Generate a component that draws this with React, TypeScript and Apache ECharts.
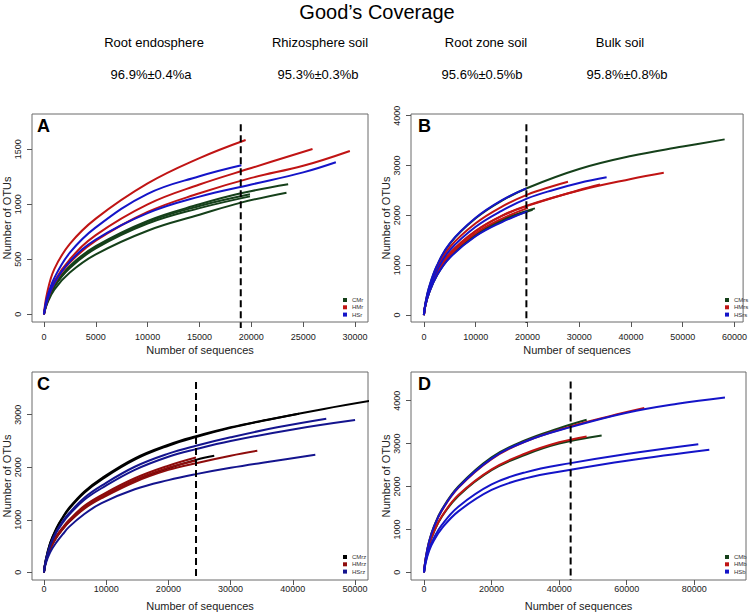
import React, { useEffect, useRef } from "react";
import * as echarts from "echarts";

type Pt = [number, number];

// ---------- Panel A (root endosphere) ----------
const A_CM: Pt[][] = [
  [[0, 0], [300, 110], [1000, 260], [2500, 440], [5000, 620], [10000, 850], [15000, 1000], [19000, 1100], [23550, 1182]],
  [[0, 0], [300, 110], [1000, 255], [2500, 430], [5000, 610], [10000, 840], [15000, 985], [19870, 1091]],
  [[0, 0], [300, 105], [1000, 250], [2500, 420], [5000, 600], [10000, 825], [15000, 965], [19870, 1072]],
  [[0, 0], [300, 95], [1000, 225], [2500, 380], [5000, 545], [10000, 760], [15000, 905], [19000, 1015], [23390, 1106]],
];
const A_HM: Pt[][] = [
  [[0, 0], [300, 190], [1000, 410], [2500, 640], [5000, 870], [10000, 1190], [15000, 1420], [19450, 1585]],
  [[0, 0], [300, 130], [1000, 300], [2500, 500], [5000, 720], [10000, 1000], [15000, 1180], [20000, 1330], [25900, 1503]],
  [[0, 0], [300, 120], [1000, 280], [2500, 470], [5000, 670], [10000, 930], [15000, 1100], [20000, 1240], [25000, 1350], [29500, 1485]],
];
const A_HS: Pt[][] = [
  [[0, 0], [300, 150], [1000, 330], [2500, 560], [5000, 790], [10000, 1095], [15000, 1255], [19040, 1355]],
  [[0, 0], [300, 120], [1000, 285], [2500, 480], [5000, 680], [10000, 920], [15000, 1070], [20000, 1180], [25000, 1290], [28150, 1382]],
];

// ---------- Panel B (rhizosphere soil) ----------
const B_CM: Pt[][] = [
  [[0, 0], [300, 235], [1000, 550], [2500, 980], [5000, 1430], [10000, 1940], [15000, 2290], [20000, 2550], [30000, 2930], [40000, 3190], [50000, 3380], [58100, 3525]],
  [[0, 0], [300, 200], [1000, 455], [2500, 810], [5000, 1180], [10000, 1620], [15000, 1910], [21450, 2140]],
  [[0, 0], [300, 195], [1000, 445], [2500, 795], [5000, 1160], [10000, 1590], [15000, 1880], [21000, 2110]],
];
const B_HM: Pt[][] = [
  [[0, 0], [300, 225], [1000, 520], [2500, 930], [5000, 1360], [10000, 1840], [15000, 2170], [20000, 2415], [25000, 2590], [27830, 2676]],
  [[0, 0], [300, 210], [1000, 480], [2500, 850], [5000, 1240], [10000, 1690], [15000, 1990], [20000, 2200], [30000, 2500], [40000, 2730], [46340, 2856]],
  [[0, 0], [300, 205], [1000, 470], [2500, 840], [5000, 1230], [10000, 1680], [15000, 1985], [20000, 2190], [30000, 2510], [34020, 2622]],
  [[0, 0], [300, 200], [1000, 460], [2500, 820], [5000, 1200], [10000, 1640], [15000, 1930], [20100, 2150]],
];
const B_HS: Pt[][] = [
  [[0, 0], [300, 240], [1000, 560], [2500, 990], [5000, 1440], [10000, 1950], [15000, 2300], [19800, 2540]],
  [[0, 0], [300, 215], [1000, 500], [2500, 890], [5000, 1300], [10000, 1770], [15000, 2090], [20000, 2340], [25000, 2510], [30000, 2650], [35300, 2763]],
  [[0, 0], [300, 195], [1000, 440], [2500, 790], [5000, 1150], [10000, 1580], [15000, 1860], [20000, 2080]],
];

// ---------- Panel C (root zone soil) ----------
const C_CM: Pt[][] = [
  [[0, 0], [300, 240], [1000, 560], [2000, 840], [3000, 1045], [4000, 1220], [6500, 1540], [9265, 1790], [14600, 2170], [20000, 2430], [24440, 2590], [30000, 2760], [35900, 2905], [45000, 3110], [53000, 3275]],
  [[0, 0], [300, 235], [1000, 550], [2000, 825], [3000, 1030], [4000, 1200], [6500, 1515], [9265, 1765], [14600, 2145], [20000, 2410], [24440, 2575], [30000, 2750], [35000, 2880], [41000, 3020]],
  [[0, 0], [300, 200], [1000, 450], [2000, 670], [3000, 825], [4000, 960], [6500, 1230], [9265, 1430], [14600, 1750], [20000, 1980], [24440, 2140], [27370, 2218]],
];
const C_HM: Pt[][] = [
  [[0, 0], [300, 205], [1000, 460], [2000, 690], [3000, 850], [4000, 990], [6500, 1265], [9265, 1470], [14600, 1790], [20000, 2030], [24440, 2186]],
  [[0, 0], [300, 195], [1000, 440], [2000, 660], [3000, 815], [4000, 950], [6500, 1210], [9265, 1410], [14600, 1720], [20000, 1950], [24440, 2078], [30000, 2220], [34290, 2314]],
  [[0, 0], [300, 200], [1000, 450], [2000, 675], [3000, 833], [4000, 970], [6500, 1240], [9265, 1440], [14600, 1755], [20000, 1990], [24440, 2130]],
];
const C_HS: Pt[][] = [
  [[0, 0], [300, 225], [1000, 520], [2000, 780], [3000, 965], [4000, 1120], [6500, 1420], [9265, 1650], [14600, 2010], [20000, 2260], [24440, 2410], [30000, 2570], [37500, 2760], [45370, 2924]],
  [[0, 0], [300, 220], [1000, 505], [2000, 760], [3000, 940], [4000, 1090], [6500, 1380], [9265, 1600], [14600, 1950], [20000, 2200], [24440, 2345], [30000, 2500], [40000, 2720], [50000, 2898]],
  [[0, 0], [300, 170], [1000, 380], [2000, 570], [3000, 720], [4000, 860], [6500, 1110], [9265, 1316], [14600, 1580], [20000, 1755], [24440, 1869], [30000, 1990], [37000, 2120], [43610, 2237]],
];

// ---------- Panel D (bulk soil) ----------
const D_CM: Pt[][] = [
  [[0, 0], [500, 330], [1500, 720], [3000, 1080], [5230, 1455], [10160, 2000], [20000, 2680], [30000, 3080], [40000, 3360], [48140, 3556]],
  [[0, 0], [500, 290], [1500, 630], [3000, 950], [5230, 1290], [10160, 1780], [20000, 2380], [30000, 2740], [40000, 3000], [52575, 3191]],
];
const D_HM: Pt[][] = [
  [[0, 0], [500, 320], [1500, 700], [3000, 1060], [5230, 1430], [10160, 1970], [20000, 2640], [30000, 3050], [43400, 3400], [55000, 3640], [65200, 3829]],
  [[0, 0], [500, 295], [1500, 640], [3000, 960], [5230, 1300], [10160, 1800], [20000, 2400], [30000, 2770], [40000, 3030], [48140, 3167]],
];
const D_HS: Pt[][] = [
  [[0, 0], [500, 325], [1500, 710], [3000, 1070], [5230, 1440], [10160, 1980], [20000, 2650], [30000, 3050], [43400, 3385], [60000, 3720], [75000, 3930], [89070, 4078]],
  [[0, 0], [500, 250], [1500, 540], [3000, 810], [5230, 1100], [10160, 1530], [20000, 2050], [30000, 2330], [43400, 2545], [60000, 2760], [81180, 2988]],
  [[0, 0], [500, 230], [1500, 500], [3000, 750], [5230, 1020], [10160, 1420], [20000, 1920], [30000, 2190], [43400, 2389], [60000, 2600], [84440, 2856]],
];

// rarefaction depth (dashed line) per panel: [x, yTop, yBottom]
const depthA: number[] = [18980, 1727, -125];
const depthB: number[] = [19800, 3827, -160];
const depthC: number[] = [24440, 3624, -147];
const depthD: number[] = [43400, 4451, -180];

// legends
const legendA = ["CMr", "HMr", "HSr"];
const legendB = ["CMrs", "HMrs", "HSrs"];
const legendC = ["CMrz", "HMrz", "HSrz"];
const legendD = ["CMb", "HMb", "HSb"];

// tick labels
const xTicksA = [0, 5000, 10000, 15000, 20000, 25000, 30000];
const yTicksA = [0, 500, 1000, 1500];
const xTicksB = [0, 10000, 20000, 30000, 40000, 50000, 60000];
const yTicksB = [0, 1000, 2000, 3000, 4000];
const xTicksC = [0, 10000, 20000, 30000, 40000, 50000];
const yTicksC = [0, 1000, 2000, 3000];
const xTicksD = [0, 20000, 40000, 60000, 80000];
const yTicksD = [0, 1000, 2000, 3000, 4000];

// header
const habitats = ["Root endosphere", "Rhizosphere soil", "Root zone soil", "Bulk soil"];
const coverage = ["96.9%\u00b10.4%a", "95.3%\u00b10.3%b", "95.6%\u00b10.5%b", "95.8%\u00b10.8%b"];

const FONT = "'Liberation Sans', Arial, sans-serif";

const panels = [
  {
    letter: "A", groups: [A_CM, A_HM, A_HS], depth: depthA, legend: legendA,
    xTicks: xTicksA, yTicks: yTicksA,
    grid: { left: 30, top: 114, width: 338, height: 208 },
    xr: [-1150, 31250], yr: [-70, 1821],
    colors: ["#15401a", "#c01414", "#1414c8"],
    xLabelMargin: 10, xNameGap: 22,
    legendPos: { left: 343, top: 297 },
  },
  {
    letter: "B", groups: [B_CM, B_HM, B_HS], depth: depthB, legend: legendB,
    xTicks: xTicksB, yTicks: yTicksB,
    grid: { left: 411, top: 114, width: 335, height: 208 },
    xr: [-2490, 61665], yr: [-140, 4034],
    colors: ["#15401a", "#c01414", "#1414c8"],
    xLabelMargin: 10, xNameGap: 22,
    legendPos: { left: 725, top: 297 },
  },
  {
    letter: "C", groups: [C_CM, C_HM, C_HS], depth: depthC, legend: legendC,
    xTicks: xTicksC, yTicks: yTicksC,
    grid: { left: 30, top: 372, width: 338, height: 208 },
    xr: [-1917, 52077], yr: [-147, 3814],
    colors: ["#000000", "#8e0c0c", "#14148e"],
    xLabelMargin: 4, xNameGap: 20,
    legendPos: { left: 343, top: 554 },
  },
  {
    letter: "D", groups: [D_CM, D_HM, D_HS], depth: depthD, legend: legendD,
    xTicks: xTicksD, yTicks: yTicksD,
    grid: { left: 411, top: 372, width: 335, height: 208 },
    xr: [-3848, 95300], yr: [-180, 4670],
    colors: ["#15401a", "#c01414", "#1414c8"],
    xLabelMargin: 4, xNameGap: 20,
    legendPos: { left: 725, top: 554 },
  },
];

function buildOption() {
  const grids: any[] = [];
  const xAxes: any[] = [];
  const yAxes: any[] = [];
  const series: any[] = [];
  const legends: any[] = [];
  const graphics: any[] = [];

  panels.forEach((p, i) => {
    grids.push({ ...p.grid, show: true, borderColor: "#6a6a6a", borderWidth: 1, containLabel: false });
    xAxes.push({
      gridIndex: i, type: "value", min: p.xr[0], max: p.xr[1],
      axisLine: { show: false, onZero: false },
      splitLine: { show: false },
      axisTick: { show: true, length: 5, customValues: p.xTicks, lineStyle: { color: "#555" } },
      axisLabel: { customValues: p.xTicks, formatter: (v: number) => String(v), fontSize: 9, color: "#222", margin: p.xLabelMargin, fontFamily: FONT },
      name: "Number of sequences", nameLocation: "middle", nameGap: p.xNameGap,
      nameTextStyle: { fontSize: 11, color: "#222", fontFamily: FONT },
    });
    yAxes.push({
      gridIndex: i, type: "value", min: p.yr[0], max: p.yr[1],
      axisLine: { show: false, onZero: false },
      splitLine: { show: false },
      axisTick: { show: true, length: 5, customValues: p.yTicks, lineStyle: { color: "#555" } },
      axisLabel: { customValues: p.yTicks, formatter: (v: number) => String(v), fontSize: 9, color: "#222", margin: 10, rotate: 90, fontFamily: FONT },
      name: "Number of OTUs", nameLocation: "middle", nameGap: 20,
      nameTextStyle: { fontSize: 11, color: "#222", fontFamily: FONT },
    });
    p.groups.forEach((curves, g) => {
      curves.forEach((c) => {
        series.push({
          type: "line", xAxisIndex: i, yAxisIndex: i, name: p.legend[g], data: c,
          showSymbol: false, smooth: 0.4, silent: true,
          lineStyle: { color: p.colors[g], width: 2 }, itemStyle: { color: p.colors[g] },
        });
      });
    });
    series.push({
      type: "line", xAxisIndex: i, yAxisIndex: i,
      data: [[p.depth[0], p.depth[1]], [p.depth[0], p.depth[2]]],
      showSymbol: false, clip: false, silent: true,
      lineStyle: { color: "#000", width: 2, type: [7, 4] },
    });
    legends.push({
      data: p.legend, orient: "vertical", left: p.legendPos.left, top: p.legendPos.top,
      itemWidth: 4, itemHeight: 4, itemGap: 1.3, padding: 0, icon: "rect",
      selectedMode: false,
      textStyle: { fontSize: 6, color: "#333", fontFamily: FONT, lineHeight: 6 },
    });
    graphics.push({
      type: "text", left: p.grid.left + 7, top: p.grid.top + 3,
      style: { text: p.letter, fontSize: 18, fontWeight: "bold", fill: "#000", font: `bold 18px ${FONT}` },
    });
  });

  const hx = [154, 320, 486, 620];
  const vx = [151, 318, 482, 627];
  graphics.push({
    type: "text", x: 377, y: 12,
    style: { text: "Good\u2019s Coverage", font: `20px ${FONT}`, fill: "#000", textAlign: "center", textVerticalAlign: "middle" },
  });
  habitats.forEach((h, k) => {
    graphics.push({
      type: "text", x: hx[k], y: 42,
      style: { text: h, font: `13px ${FONT}`, fill: "#000", textAlign: "center", textVerticalAlign: "middle" },
    });
  });
  coverage.forEach((c, k) => {
    graphics.push({
      type: "text", x: vx[k], y: 74,
      style: { text: c, font: `13px ${FONT}`, fill: "#000", textAlign: "center", textVerticalAlign: "middle" },
    });
  });

  return {
    animation: false,
    backgroundColor: "#fff",
    textStyle: { fontFamily: FONT },
    grid: grids, xAxis: xAxes, yAxis: yAxes, series, legend: legends, graphic: graphics,
  };
}

export default function App() {
  const ref = useRef<HTMLDivElement>(null);
  useEffect(() => {
    const chart = echarts.init(ref.current!, null, { renderer: "svg" });
    chart.setOption(buildOption() as any);
    return () => chart.dispose();
  }, []);
  return (
    <div
      ref={ref}
      style={{ position: "fixed", left: 0, top: 0, width: 750, height: 612, background: "#fff" }}
    />
  );
}
